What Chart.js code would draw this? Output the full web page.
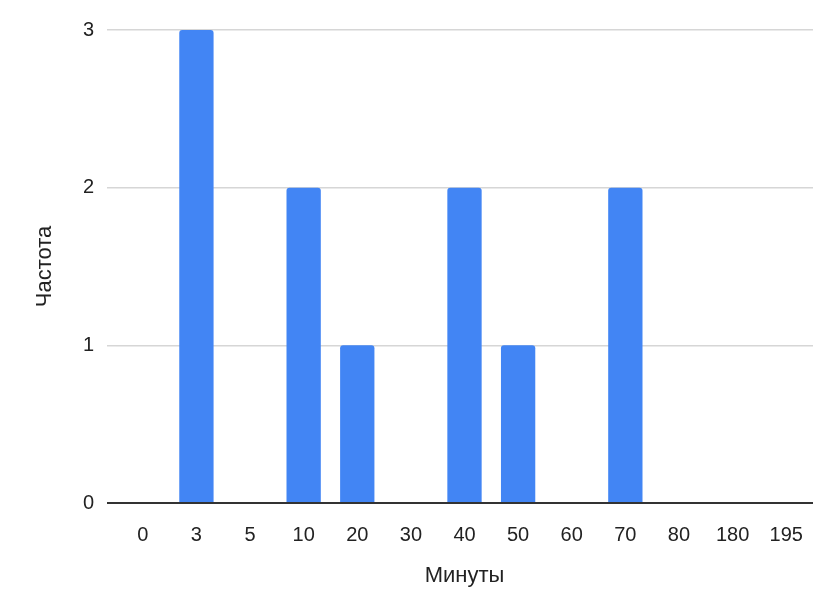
<!DOCTYPE html>
<html><head><meta charset="utf-8">
<script src="https://cdn.jsdelivr.net/npm/chart.js@4.4.1/dist/chart.umd.min.js"></script>
<style>html,body{margin:0;padding:0;background:#fff;}#wrap{width:839px;height:608px;}</style>
</head><body>
<div id="wrap"><canvas id="c" width="839" height="608"></canvas></div>
<script>
const categories = ['0','3','5','10','20','30','40','50','60','70','80','180','195'];
const frequency = [0,3,0,2,1,0,2,1,0,2,0,0,0];
const yTicks = [0,1,2,3];
const xTitle = 'Минуты';
const yTitle = 'Частота';

const FONT = '"Liberation Sans", Arial, sans-serif';
new Chart(document.getElementById('c'), {
  type: 'bar',
  data: {
    labels: categories,
    datasets: [{
      data: frequency,
      backgroundColor: '#4285F4',
      borderRadius: {topLeft: 3, topRight: 3, bottomLeft: 0, bottomRight: 0},
      borderSkipped: 'bottom',
      categoryPercentage: 1,
      barPercentage: 0.64
    }]
  },
  options: {
    responsive: false,
    animation: false,
    layout: {padding: {top: 30, right: 26, left: 0, bottom: 0}},
    plugins: {legend: {display: false}, tooltip: {enabled: false}},
    scales: {
      x: {
        grid: {display: false},
        border: {display: false},
        ticks: {color: '#222', font: {family: FONT, size: 20}, padding: 12, maxRotation: 0, autoSkip: false},
        title: {display: true, text: xTitle, color: '#222', font: {family: FONT, size: 22}, padding: {top: 0, bottom: 19}},
        afterFit: s => { s.height = 105; }
      },
      y: {
        min: 0, max: 3,
        afterBuildTicks: s => { s.ticks = yTicks.map(v => ({value: v})); },
        grid: {
          color: c => c.tick && c.tick.value === 0 ? '#333333' : '#d6d6d6',
          lineWidth: c => c.tick && c.tick.value === 0 ? 2 : 1.5,
          drawTicks: true, tickLength: 9
        },
        border: {display: false},
        ticks: {color: '#222', font: {family: FONT, size: 20}, padding: 13},
        title: {display: true, text: yTitle, color: '#222', font: {family: FONT, size: 22}, padding: {top: 32, bottom: 0}},
        afterFit: s => { s.width = 116; }
      }
    }
  }
});
</script>
</body></html>
